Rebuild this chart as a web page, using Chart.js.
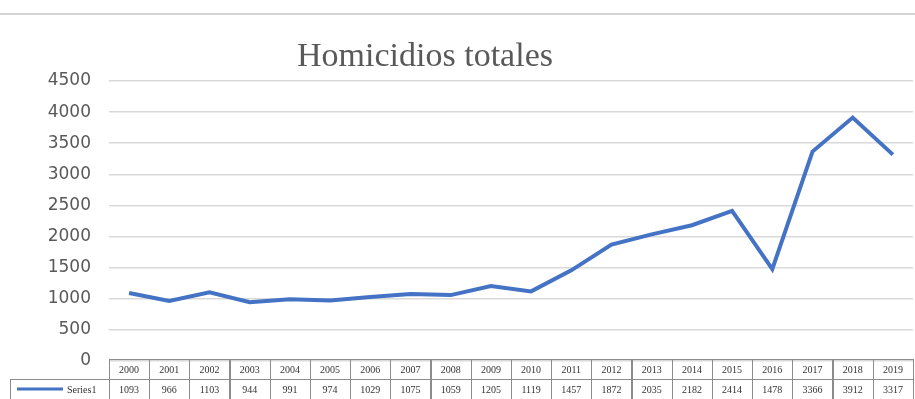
<!DOCTYPE html>
<html>
<head>
<meta charset="utf-8">
<title>Homicidios totales</title>
<script src="https://cdn.jsdelivr.net/npm/chart.js@4"></script>
<style>
  html, body { margin: 0; padding: 0; background: #fff; }
  #wrap { position: relative; width: 915px; height: 399px; }
</style>
</head>
<body>
<div id="wrap"><canvas id="homicidios"></canvas></div>
<script>
"use strict";

const years = ["2000", "2001", "2002", "2003", "2004", "2005", "2006", "2007", "2008", "2009",
    "2010", "2011", "2012", "2013", "2014", "2015", "2016", "2017", "2018", "2019"];
const homicidios = [1093, 966, 1103, 944, 991, 974, 1029, 1075, 1059, 1205,
    1119, 1457, 1872, 2035, 2182, 2414, 1478, 3366, 3912, 3317];
const seriesName = "Series1";
const chartTitle = "Homicidios totales";
const lineColor = "#4472C4";

// separator line, title, and the data table under the plot
const tablePlugin = {
    id: "dataTable",
    beforeDraw(chart) {
        const ctx = chart.ctx;
        ctx.save();
        ctx.strokeStyle = "#d4d4d4";
        ctx.lineWidth = 2;
        ctx.beginPath();
        ctx.moveTo(0, 14);
        ctx.lineTo(chart.width, 14);
        ctx.stroke();
        ctx.fillStyle = "#595959";
        ctx.font = "34px 'Liberation Serif'";
        ctx.textAlign = "center";
        ctx.textBaseline = "alphabetic";
        ctx.fillText(chartTitle, 425, 66);
        ctx.restore();
    },
    afterDraw(chart) {
        const ctx = chart.ctx;
        const x = chart.scales.x;
        const area = chart.chartArea;
        const top = area.bottom - 2;
        const rowH = 20;
        const half = (x.getPixelForValue(1) - x.getPixelForValue(0)) / 2;
        ctx.save();
        ctx.strokeStyle = "#8c8c8c";
        ctx.lineWidth = 1;
        ctx.fillStyle = "#333";
        ctx.font = "10px 'Liberation Serif'";
        ctx.textAlign = "center";
        ctx.textBaseline = "middle";
        years.forEach((year, i) => {
            const cx = x.getPixelForValue(i);
            const l = Math.round(cx - half) + 0.5;
            const w = Math.round(half * 2);
            ctx.strokeRect(l, top + 0.5, w, rowH);
            ctx.strokeRect(l, top + rowH + 0.5, w, rowH);
            ctx.fillText(year, cx, top + rowH / 2 + 1);
            ctx.fillText(String(homicidios[i]), cx, top + rowH * 1.5 + 1);
        });
        // legend key cell
        const left = 10;
        ctx.strokeRect(left + 0.5, top + rowH + 0.5, Math.round(area.left) - left, rowH);
        ctx.strokeStyle = lineColor;
        ctx.lineWidth = 3;
        ctx.beginPath();
        ctx.moveTo(17, top + rowH * 1.5);
        ctx.lineTo(63, top + rowH * 1.5);
        ctx.stroke();
        ctx.textAlign = "left";
        ctx.fillText(seriesName, 67, top + rowH * 1.5 + 1);
        ctx.restore();
    }
};

new Chart(document.getElementById("homicidios"), {
    type: "line",
    data: {
        labels: years,
        datasets: [{
            label: seriesName,
            data: homicidios,
            borderColor: lineColor,
            borderWidth: 4,
            pointRadius: 0,
            tension: 0,
            fill: false
        }]
    },
    options: {
        responsive: true,
        maintainAspectRatio: false,
        animation: false,
        layout: { padding: { top: 81, left: 0, right: 2, bottom: 38 } },
        plugins: {
            legend: { display: false },
            tooltip: { enabled: false },
            title: { display: false }
        },
        scales: {
            x: {
                display: false,
                offset: true
            },
            y: {
                min: 0,
                max: 4500,
                afterFit(scale) { scale.width = 109; },
                grid: { color: "#d9d9d9", drawTicks: false, lineWidth: 1.5 },
                border: { display: false },
                ticks: {
                    stepSize: 500,
                    padding: 18,
                    color: "#595959",
                    font: { family: "'DejaVu Sans'", size: 17 },
                    callback: (value) => String(value)
                }
            }
        }
    },
    plugins: [tablePlugin]
});
</script>
</body>
</html>
